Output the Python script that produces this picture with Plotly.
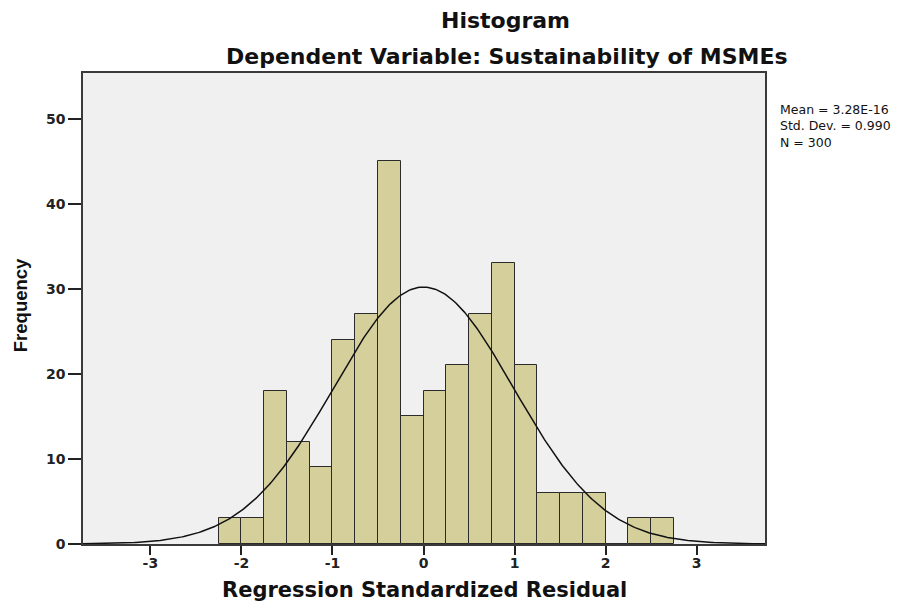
import numpy as np
import plotly.graph_objects as go

# ---- data ----
bin_left_edges = [-2.25, -2.0, -1.75, -1.5, -1.25, -1.0, -0.75, -0.5, -0.25, 0.0,
                  0.25, 0.5, 0.75, 1.0, 1.25, 1.5, 1.75, 2.0, 2.25, 2.5]
bin_counts = [3, 3, 18, 12, 9, 24, 27, 45, 15, 18,
              21, 27, 33, 21, 6, 6, 6, 0, 3, 3]
bin_width = 0.25
stat_mean = 3.28e-16
stat_sd = 0.990
stat_n = 300
x_ticks = [-3, -2, -1, 0, 1, 2, 3]
y_ticks = [0, 10, 20, 30, 40, 50]
stats_lines = ["Mean = 3.28E-16", "Std. Dev. = 0.990", "N = 300"]

centers = [e + bin_width / 2 for e in bin_left_edges]

fig = go.Figure()
fig.add_trace(go.Bar(
    x=centers, y=bin_counts, width=bin_width,
    marker=dict(color="#d4cf9b", line=dict(color="#2b2b2b", width=1)),
    hoverinfo="x+y", showlegend=False,
))

xs = np.linspace(-3.74, 3.75, 400)
ys = stat_n * bin_width * np.exp(-0.5 * ((xs - stat_mean) / stat_sd) ** 2) / (stat_sd * np.sqrt(2 * np.pi))
fig.add_trace(go.Scatter(x=xs, y=ys, mode="lines", line=dict(color="#111111", width=1.5),
                         showlegend=False, hoverinfo="skip"))

font_h = "DejaVu Sans"
fig.update_layout(
    width=911, height=593,
    margin=dict(l=75, r=154, t=65, b=57),
    paper_bgcolor="white", plot_bgcolor="#f0f0f0",
    bargap=0,
    font=dict(family=font_h, color="#111111"),
    xaxis=dict(range=[-3.74, 3.75], tickvals=x_ticks, ticktext=[str(v) for v in x_ticks],
               showgrid=False, zeroline=False, showline=True, mirror=True,
               linecolor="#3a3a3a", linewidth=1.5, ticks="outside", ticklen=9,
               tickwidth=1.5, tickcolor="#222222", ticklabelstandoff=-4,
               tickfont=dict(family=font_h, size=14, color="#222222", weight="bold")),
    yaxis=dict(range=[0, 55.4], tickvals=y_ticks, ticktext=[str(v) for v in y_ticks],
               showgrid=False, zeroline=False, showline=True, mirror=True,
               linecolor="#3a3a3a", linewidth=1.5, ticks="outside", ticklen=13,
               tickwidth=1.5, tickcolor="#222222",
               tickfont=dict(family=font_h, size=14, color="#222222", weight="bold")),
)

ann = []
ann.append(dict(text="<b>Histogram</b>", x=0.619, y=1.1125, xref="paper", yref="paper",
                xanchor="center", yanchor="middle", showarrow=False,
                font=dict(family=font_h, size=22, color="#111111")))
ann.append(dict(text="<b>Dependent Variable: Sustainability of MSMEs</b>", x=0.621, y=1.034,
                xref="paper", yref="paper", xanchor="center", yanchor="middle", showarrow=False,
                font=dict(family=font_h, size=22, color="#111111")))
ann.append(dict(text="<b>Regression Standardized Residual</b>", x=0.501, y=-0.0977,
                xref="paper", yref="paper", xanchor="center", yanchor="middle", showarrow=False,
                font=dict(family=font_h, size=21, color="#111111")))
ann.append(dict(text="<b>Frequency</b>", x=-0.0924, y=0.507, textangle=-90,
                xref="paper", yref="paper", xanchor="center", yanchor="middle", showarrow=False,
                font=dict(family="Liberation Sans", size=18.5, color="#111111")))
ann.append(dict(text="<br>".join(stats_lines), x=1.019, y=0.943, xref="paper", yref="paper",
                xanchor="left", yanchor="top", align="left", showarrow=False,
                font=dict(family=font_h, size=12.5, color="#111111")))
fig.update_layout(annotations=ann)

fig.write_html("out.html")
